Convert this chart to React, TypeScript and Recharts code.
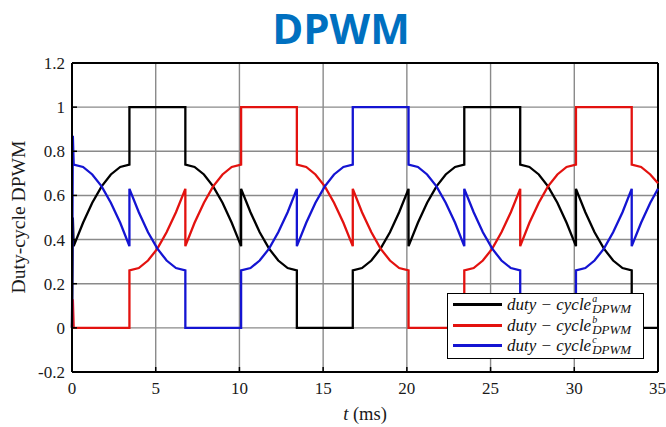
import React from 'react';
import { LineChart, Line, XAxis, YAxis, CartesianGrid, ReferenceLine, Legend } from 'recharts';

// time in ms (segment boundaries repeated to draw the vertical jumps)
const timeMs = [
  0, 0.05,
  0.10, 0.66, 1.21, 1.77, 2.32, 2.88, 3.43,
  3.43, 3.99, 4.54, 5.10, 5.65, 6.21, 6.77,
  6.77, 7.32, 7.88, 8.43, 8.99, 9.54, 10.10,
  10.10, 10.66, 11.21, 11.77, 12.32, 12.88, 13.43,
  13.43, 13.99, 14.54, 15.10, 15.65, 16.21, 16.77,
  16.77, 17.32, 17.88, 18.43, 18.99, 19.54, 20.10,
  20.10, 20.66, 21.21, 21.77, 22.32, 22.88, 23.43,
  23.43, 23.99, 24.54, 25.10, 25.65, 26.21, 26.77,
  26.77, 27.32, 27.88, 28.43, 28.99, 29.54, 30.10,
  30.10, 30.66, 31.21, 31.77, 32.32, 32.88, 33.43,
  33.43, 33.99, 34.54, 35.00,
];

// phase a (black)
const dutyA = [
  0, 0.5,
  0.37, 0.476, 0.567, 0.641, 0.695, 0.729, 0.74,
  1, 1, 1, 1, 1, 1, 1,
  0.74, 0.729, 0.695, 0.641, 0.567, 0.476, 0.37,
  0.63, 0.524, 0.433, 0.359, 0.305, 0.271, 0.26,
  0, 0, 0, 0, 0, 0, 0,
  0.26, 0.271, 0.305, 0.359, 0.433, 0.524, 0.63,
  0.37, 0.476, 0.567, 0.641, 0.695, 0.729, 0.74,
  1, 1, 1, 1, 1, 1, 1,
  0.74, 0.729, 0.695, 0.641, 0.567, 0.476, 0.37,
  0.63, 0.524, 0.433, 0.359, 0.305, 0.271, 0.26,
  0, 0, 0, 0,
];

// phase b (red)
const dutyB = [
  0, 0.13,
  0, 0, 0, 0, 0, 0, 0,
  0.26, 0.271, 0.305, 0.359, 0.433, 0.524, 0.63,
  0.37, 0.476, 0.567, 0.641, 0.695, 0.729, 0.74,
  1, 1, 1, 1, 1, 1, 1,
  0.74, 0.729, 0.695, 0.641, 0.567, 0.476, 0.37,
  0.63, 0.524, 0.433, 0.359, 0.305, 0.271, 0.26,
  0, 0, 0, 0, 0, 0, 0,
  0.26, 0.271, 0.305, 0.359, 0.433, 0.524, 0.63,
  0.37, 0.476, 0.567, 0.641, 0.695, 0.729, 0.74,
  1, 1, 1, 1, 1, 1, 1,
  0.74, 0.729, 0.695, 0.655,
];

// phase c (blue)
const dutyC = [
  0, 0.87,
  0.74, 0.729, 0.695, 0.641, 0.567, 0.476, 0.37,
  0.63, 0.524, 0.433, 0.359, 0.305, 0.271, 0.26,
  0, 0, 0, 0, 0, 0, 0,
  0.26, 0.271, 0.305, 0.359, 0.433, 0.524, 0.63,
  0.37, 0.476, 0.567, 0.641, 0.695, 0.729, 0.74,
  1, 1, 1, 1, 1, 1, 1,
  0.74, 0.729, 0.695, 0.641, 0.567, 0.476, 0.37,
  0.63, 0.524, 0.433, 0.359, 0.305, 0.271, 0.26,
  0, 0, 0, 0, 0, 0, 0,
  0.26, 0.271, 0.305, 0.359, 0.433, 0.524, 0.63,
  0.37, 0.476, 0.567, 0.63,
];

const xTicks = [0, 5, 10, 15, 20, 25, 30, 35];
const yTicks = [-0.2, 0, 0.2, 0.4, 0.6, 0.8, 1, 1.2];
const seriesKeys = ['a', 'b', 'c'];
const seriesColors = ['#000000', '#e3120f', '#1414d2'];

const data = timeMs.map((t, i) => ({ t, a: dutyA[i], b: dutyB[i], c: dutyC[i] }));

const serif = '"Liberation Serif", "Times New Roman", serif';

function LegendBox(props: any) {
  const payload = props.payload || [];
  return (
    <div
      style={{
        width: 197,
        height: 66,
        boxSizing: 'border-box',
        border: '1.4px solid #000',
        background: '#fff',
        paddingLeft: 5,
      }}
    >
      {payload.map((p: any) => (
        <div key={p.value} style={{ display: 'flex', alignItems: 'center', height: 20.8 }}>
          <span style={{ width: 49, height: 3, background: p.color, display: 'inline-block', marginRight: 5 }} />
          <span style={{ fontFamily: serif, fontStyle: 'italic', fontSize: 17, whiteSpace: 'pre', color: '#111', lineHeight: 1 }}>
            {'duty − cycle'}
          </span>
          <span
            style={{
              display: 'inline-flex',
              flexDirection: 'column',
              fontFamily: serif,
              fontStyle: 'italic',
              marginLeft: 1,
              color: '#111',
            }}
          >
            <span style={{ fontSize: 10, lineHeight: '8px', height: 8 }}>{p.value}</span>
            <span style={{ fontSize: 13, lineHeight: '11px', height: 11 }}>DPWM</span>
          </span>
        </div>
      ))}
    </div>
  );
}

export default function App() {
  return (
    <div style={{ position: 'absolute', left: 0, top: 0, width: 666, height: 427, background: '#fff' }}>
      <LineChart width={666} height={427} data={data} margin={{ top: 63, right: 8, left: 12, bottom: 25 }}>
        <CartesianGrid stroke="#8a8a8a" strokeWidth={1.4} />
        <XAxis
          dataKey="t"
          type="number"
          domain={[0, 35]}
          ticks={xTicks}
          height={30}
          tick={{ fontFamily: serif, fontSize: 17, fill: '#1a1a1a' }}
          axisLine={{ stroke: '#000', strokeWidth: 2 }}
          tickLine={{ stroke: '#000', strokeWidth: 1.5 }}
          tickSize={-5}
          tickMargin={15}
        />
        <YAxis
          type="number"
          domain={[-0.2, 1.2]}
          ticks={yTicks}
          width={60}
          tick={{ fontFamily: serif, fontSize: 17, fill: '#1a1a1a' }}
          axisLine={{ stroke: '#000', strokeWidth: 2 }}
          tickLine={{ stroke: '#000', strokeWidth: 1.5 }}
          tickSize={-5}
          tickMargin={12}
        />
        <ReferenceLine y={1.2} stroke="#000" strokeWidth={2} />
        <ReferenceLine x={35} stroke="#000" strokeWidth={2} />
        {seriesKeys.map((k, i) => (
          <Line
            key={k}
            dataKey={k}
            name={k}
            type="linear"
            stroke={seriesColors[i]}
            strokeWidth={2.3}
            dot={false}
            activeDot={false}
            isAnimationActive={false}
          />
        ))}
        <Legend
          layout="vertical"
          align="center"
          verticalAlign="middle"
          content={<LegendBox />}
          wrapperStyle={{ left: 447, top: 293, width: 197, height: 66 }}
        />
      </LineChart>
      <svg
        width={666}
        height={427}
        style={{ position: 'absolute', left: 0, top: 0, pointerEvents: 'none' }}
      >
        <text
          x={341}
          y={44}
          textAnchor="middle"
          fontFamily='"Open Sans", "Noto Sans", sans-serif'
          fontWeight={700}
          fontSize={42}
          fill="#0070c0"
        >
          DPWM
        </text>
        <text
          x={365}
          y={420}
          textAnchor="middle"
          fontFamily={serif}
          fontSize={18.5}
          fill="#1a1a1a"
        >
          <tspan fontStyle="italic">t</tspan>
          <tspan> (ms)</tspan>
        </text>
        <text
          transform="translate(25 217) rotate(-90)"
          textAnchor="middle"
          fontFamily={serif}
          fontSize={18.5}
          fill="#1a1a1a"
          textLength={153}
          lengthAdjust="spacingAndGlyphs"
        >
          Duty-cycle DPWM
        </text>
      </svg>
    </div>
  );
}
